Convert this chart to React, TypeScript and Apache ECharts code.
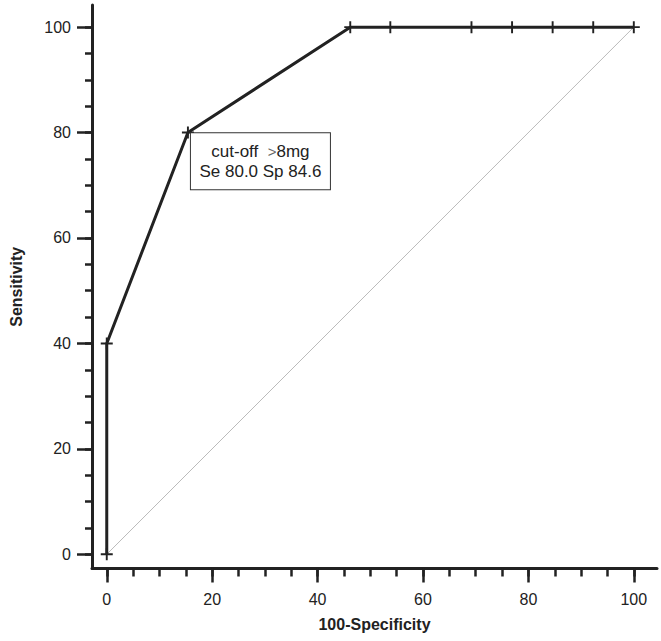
import React, { useEffect, useRef } from "react";
import * as echarts from "echarts";

const fpr = [0, 0, 15.4, 46.2, 53.8, 69.2, 76.9, 84.6, 92.3, 100];
const tpr = [0, 40, 80, 100, 100, 100, 100, 100, 100, 100];
const diagX = [0, 100];
const diagY = [0, 100];
const majorTicks = [0, 20, 40, 60, 80, 100];
const minorTicks = [0, 5, 10, 15, 20, 25, 30, 35, 40, 45, 50, 55, 60, 65, 70, 75, 80, 85, 90, 95, 100];
const cutoffIndex = 2;
const xName = "100-Specificity";
const yName = "Sensitivity";

const FONT = "'Liberation Sans', Arial, sans-serif";
const DARK = "#222";
const PLUS =
  "path://M-0.16,-1 L0.16,-1 L0.16,-0.16 L1,-0.16 L1,0.16 L0.16,0.16 L0.16,1 L-0.16,1 L-0.16,0.16 L-1,0.16 L-1,-0.16 L-0.16,-0.16 Z";

export default function App() {
  const ref = useRef<HTMLDivElement>(null);
  useEffect(() => {
    if (!ref.current) return;
    const chart = echarts.init(ref.current, null, { renderer: "svg" });
    const xMin = -2.8, xMax = 104.4, yMin = -2.7, yMax = 104.2;
    const baseX = (major: boolean) => ({
      type: "value",
      gridIndex: 0,
      position: "bottom",
      min: xMin,
      max: xMax,
      splitLine: { show: false },
      axisLine: { show: major, onZero: false, lineStyle: { color: DARK, width: 3 } },
      axisTick: {
        show: true,
        inside: false,
        length: major ? 14 : 8,
        customValues: major ? majorTicks : minorTicks,
        lineStyle: { color: DARK, width: 2.5 },
      },
      axisLabel: {
        show: major,
        customValues: majorTicks,
        margin: 23,
        fontSize: 16,
        fontFamily: FONT,
        color: DARK,
      },
      name: major ? xName : "",
      nameLocation: "middle",
      nameGap: 48,
      nameTextStyle: { fontSize: 16, fontWeight: "bold", fontFamily: FONT, color: DARK },
    });
    const baseY = (major: boolean) => ({
      type: "value",
      gridIndex: 0,
      position: "left",
      min: yMin,
      max: yMax,
      splitLine: { show: false },
      axisLine: { show: major, onZero: false, lineStyle: { color: DARK, width: 3 } },
      axisTick: {
        show: true,
        inside: false,
        length: major ? 15 : 7,
        customValues: major ? majorTicks : minorTicks,
        lineStyle: { color: DARK, width: 2.5 },
      },
      axisLabel: {
        show: major,
        customValues: majorTicks,
        margin: 21,
        fontSize: 16,
        fontFamily: FONT,
        color: DARK,
      },
      name: major ? yName : "",
      nameLocation: "middle",
      nameGap: 68,
      nameTextStyle: { fontSize: 16, fontWeight: "bold", fontFamily: FONT, color: DARK },
    });

    const rocData = fpr.map((x, i) => {
      const item: any = { value: [x, tpr[i]] };
      if (i === cutoffIndex) {
        item.label = {
          show: true,
          position: [78.5, 6.6],
          align: "center",
          verticalAlign: "top",
          formatter: "{a|cut-off  }{g|>}{a|8mg}\n{a|Se 80.0 Sp 84.6}",
          backgroundColor: "#fff",
          borderColor: "#333",
          borderWidth: 1,
          width: 121,
          padding: [8, 9, 8, 9],
          rich: {
            a: { fontSize: 17, fontFamily: FONT, color: DARK, lineHeight: 20 },
            g: { fontSize: 15, fontFamily: FONT, color: "#666", lineHeight: 20 },
          },
        };
      }
      return item;
    });

    chart.setOption({
      animation: false,
      backgroundColor: "#fff",
      grid: { left: 92, right: 4, top: 5, bottom: 72.5, containLabel: false, outerBoundsMode: "none" },
      xAxis: [baseX(true), baseX(false)],
      yAxis: [baseY(true), baseY(false)],
      series: [
        {
          type: "line",
          xAxisIndex: 0,
          yAxisIndex: 0,
          data: diagX.map((x, i) => [x, diagY[i]]),
          symbol: "none",
          lineStyle: { color: "#bbb", width: 1 },
          silent: true,
          z: 1,
        },
        {
          type: "line",
          xAxisIndex: 0,
          yAxisIndex: 0,
          data: rocData,
          symbol: PLUS,
          symbolSize: 12,
          showAllSymbol: true,
          itemStyle: { color: DARK },
          lineStyle: { color: DARK, width: 3 },
          z: 3,
        },
      ],
    });
    return () => chart.dispose();
  }, []);
  return (
    <div
      ref={ref}
      style={{ position: "fixed", left: 0, top: 0, width: 661, height: 641, background: "#fff" }}
    />
  );
}
